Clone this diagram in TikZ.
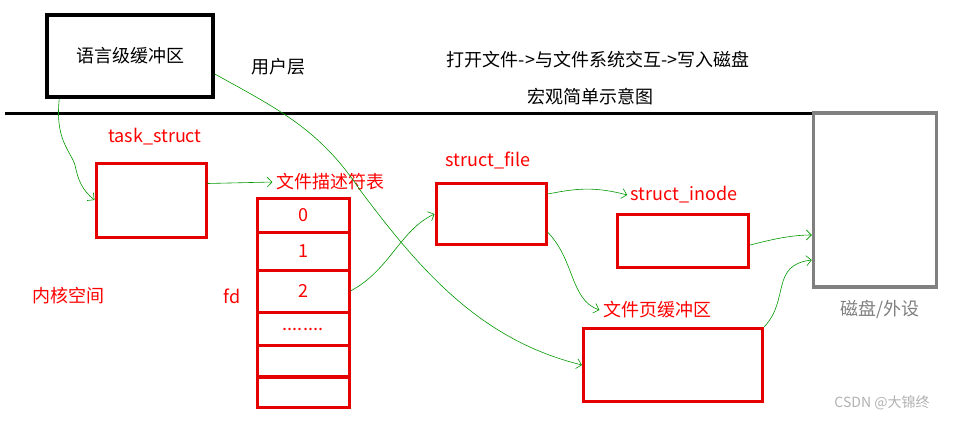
\documentclass[tikz,border=0pt]{standalone}
\usepackage{fontspec}
\setmainfont{Noto Sans CJK SC}
\usetikzlibrary{arrows.meta}
\begin{document}
\begin{tikzpicture}[x=1pt,y=-1pt,
 rbox/.style={draw=red!90!black,line width=3pt},
 rtxt/.style={text=red,font=\fontsize{18}{20}\selectfont},
 btxt/.style={font=\fontsize{18}{20}\selectfont},
 gl/.style={draw=green!60!black,line width=0.6pt},
 ga/.style={gl,-{Straight Barb[length=5pt]}}]
\useasboundingbox[fill=white] (0,0) rectangle (961,421);
\node[draw,line width=3.5pt,minimum width=166pt,minimum height=82pt,btxt] (lb) at (130,56) {语言级缓冲区};
\node[btxt] (user) at (278,67) {用户层};
\node[btxt] (title) at (598,60) {打开文件->与文件系统交互->写入磁盘};
\node[btxt] (sub) at (590,97) {宏观简单示意图};
\coordinate (l1) at (5,113); \coordinate (l2) at (812,113);
\draw[line width=3pt] (l1) -- (l2);
\node[rtxt] (tst) at (155,137) {task\_struct};
\node[rbox,minimum width=110pt,minimum height=74pt] (task) at (151,200) {};
\node[rtxt] (fdt) at (330,182) {文件描述符表};
\foreach \n/\y/\h/\t in {f0/215/34/{0},f1/251/38/{1},f2/291/42/{2},f3/329/33/{........},f4/361/32/{},f5/392/31/{}}
  \node[rbox,minimum width=92pt,minimum height=\h pt,rtxt,inner sep=0pt] (\n) at (303,\y) {\t};
\node[rtxt] (fd) at (232,296) {fd};
\node[rtxt] (kern) at (68,296) {内核空间};
\node[rtxt] (sft) at (488,160) {struct\_file};
\node[rbox,minimum width=110pt,minimum height=61pt] (sf) at (491,214) {};
\node[rtxt] (sit) at (684,195) {struct\_inode};
\node[rbox,minimum width=131pt,minimum height=53pt] (si) at (683,241) {};
\node[rtxt] (pct) at (657,310) {文件页缓冲区};
\node[rbox,minimum width=179pt,minimum height=73pt] (pc) at (673,365) {};
\node[draw=gray,line width=3.5pt,minimum width=123pt,minimum height=174pt] (disk) at (875,200) {};
\node[text=gray,btxt] (dt) at (880,309) {磁盘/外设};
\node[text=gray!60,font=\fontsize{14}{16}\selectfont] (wm) at (882,403) {CSDN @大锦终};
\draw[ga] ([xshift=14pt]lb.south west) .. controls (55,140) and (70,150) .. (75,165) .. controls (78,180) and (82,190) .. (task.west);
\draw[ga] ([yshift=-22pt]task.north east) -- ([yshift=0pt]fdt.west);
\draw[ga] ([yshift=-18pt]lb.east) .. controls (280,110) and (320,130) .. (360,190) .. controls (420,270) and (480,340) .. (pc.west);
\draw[ga] (f2.east) .. controls (390,270) and (400,230) .. (sf.west);
\draw[ga] ([yshift=-12pt]sf.north east) .. controls (570,190) and (590,185) .. (sit.west);
\draw[ga] ([yshift=-50pt]sf.north east) .. controls (575,260) and (570,300) .. (pct.west);
\draw[ga] ([yshift=-4pt]si.east) .. controls (770,240) and (790,235) .. ([yshift=-35pt]disk.west);
\draw[ga] (pc.north east) .. controls (790,300) and (770,265) .. ([yshift=-60pt]disk.west);
\end{tikzpicture}
\end{document}
